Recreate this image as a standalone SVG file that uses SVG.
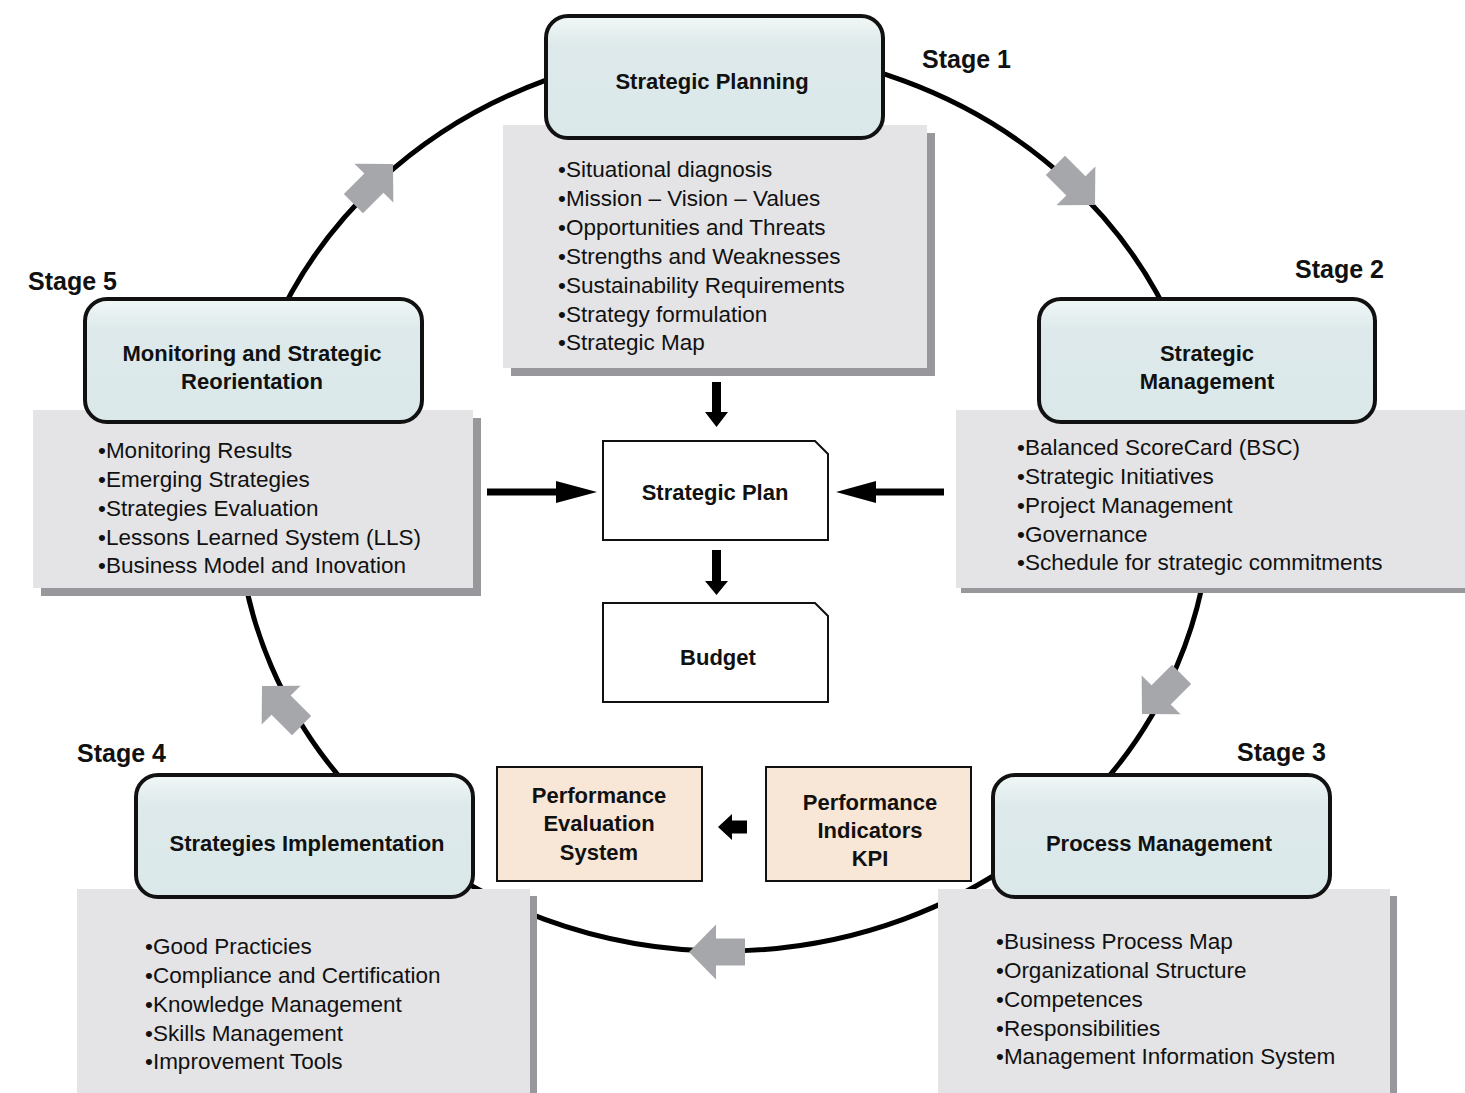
<svg xmlns="http://www.w3.org/2000/svg" width="1465" height="1093" viewBox="0 0 1465 1093">
<defs>
<linearGradient id="stg" x1="0" y1="0" x2="0" y2="1">
<stop offset="0" stop-color="#f1f7f7"/>
<stop offset="0.25" stop-color="#dde9ea"/>
<stop offset="1" stop-color="#dbe8e9"/>
</linearGradient>
</defs>
<style>
.stage{fill:url(#stg);stroke:#111;stroke-width:4}
.panel{fill:#e4e4e6}
.shadow{fill:#98989c}
.doc{fill:#fff;stroke:#111;stroke-width:2}
.perf{fill:#f8e6d7;stroke:#111;stroke-width:2}
.ga{fill:#a6a7ab}
.ba{fill:#000}
.t{font-family:"Liberation Sans",Arial,sans-serif;font-size:22px;font-weight:bold;fill:#111;text-anchor:middle}
.sl{font-family:"Liberation Sans",Arial,sans-serif;font-size:25px;font-weight:bold;fill:#111}
.li{font-family:"Liberation Sans",Arial,sans-serif;font-size:22.5px;fill:#111}
</style>
<g id="connectors">
<ellipse cx="724" cy="500" rx="487" ry="451" fill="none" stroke="#000" stroke-width="5"/>
</g>
<g id="panel1">
<rect class="shadow" x="511" y="133" width="424" height="243"/>
<rect class="panel" x="503" y="125" width="424" height="243"/>
<text class="li" x="558" y="177">•Situational diagnosis</text>
<text class="li" x="558" y="206">•Mission – Vision – Values</text>
<text class="li" x="558" y="235">•Opportunities and Threats</text>
<text class="li" x="558" y="264">•Strengths and Weaknesses</text>
<text class="li" x="558" y="293">•Sustainability Requirements</text>
<text class="li" x="558" y="322">•Strategy formulation</text>
<text class="li" x="558" y="350">•Strategic Map</text>
</g>
<g id="panel5">
<rect class="shadow" x="41" y="418" width="440" height="178"/>
<rect class="panel" x="33" y="410" width="440" height="178"/>
<text class="li" x="98" y="458">•Monitoring Results</text>
<text class="li" x="98" y="487">•Emerging Strategies</text>
<text class="li" x="98" y="516">•Strategies Evaluation</text>
<text class="li" x="98" y="545">•Lessons Learned System (LLS)</text>
<text class="li" x="98" y="573">•Business Model and Inovation</text>
</g>
<g id="panel2">
<rect class="shadow" x="961" y="415" width="504" height="178"/>
<rect class="panel" x="956" y="410" width="509" height="178"/>
<text class="li" x="1017" y="455">•Balanced ScoreCard (BSC)</text>
<text class="li" x="1017" y="484">•Strategic Initiatives</text>
<text class="li" x="1017" y="513">•Project Management</text>
<text class="li" x="1017" y="542">•Governance</text>
<text class="li" x="1017" y="570">•Schedule for strategic commitments</text>
</g>
<g id="panel4">
<rect class="shadow" x="84" y="896" width="453" height="197"/>
<rect class="panel" x="77" y="889" width="453" height="204"/>
<text class="li" x="145" y="954">•Good Practicies</text>
<text class="li" x="145" y="983">•Compliance and Certification</text>
<text class="li" x="145" y="1012">•Knowledge Management</text>
<text class="li" x="145" y="1041">•Skills Management</text>
<text class="li" x="145" y="1069">•Improvement Tools</text>
</g>
<g id="panel3">
<rect class="shadow" x="945" y="896" width="452" height="197"/>
<rect class="panel" x="938" y="889" width="452" height="204"/>
<text class="li" x="996" y="949">•Business Process Map</text>
<text class="li" x="996" y="978">•Organizational Structure</text>
<text class="li" x="996" y="1007">•Competences</text>
<text class="li" x="996" y="1036">•Responsibilities</text>
<text class="li" x="996" y="1064">•Management Information System</text>
</g>
<g id="stage1">
<rect class="stage" x="546" y="16" width="337" height="122" rx="22"/>
<text class="t" x="712" y="89">Strategic Planning</text>
<text class="sl" x="922" y="68">Stage 1</text>
</g>
<g id="stage2">
<rect class="stage" x="1039" y="299" width="336" height="123" rx="22"/>
<text class="t" x="1207" y="361">Strategic</text>
<text class="t" x="1207" y="389">Management</text>
<text class="sl" x="1295" y="278">Stage 2</text>
</g>
<g id="stage3">
<rect class="stage" x="993" y="775" width="337" height="122" rx="22"/>
<text class="t" x="1159" y="851">Process Management</text>
<text class="sl" x="1237" y="761">Stage 3</text>
</g>
<g id="stage4">
<rect class="stage" x="136" y="775" width="337" height="122" rx="22"/>
<text class="t" x="307" y="851">Strategies Implementation</text>
<text class="sl" x="77" y="762">Stage 4</text>
</g>
<g id="stage5">
<rect class="stage" x="85" y="299" width="337" height="123" rx="22"/>
<text class="t" x="252" y="361">Monitoring and Strategic</text>
<text class="t" x="252" y="389">Reorientation</text>
<text class="sl" x="28" y="290">Stage 5</text>
</g>
<g id="strategic-plan">
<path class="doc" d="M603,441 H815 L828,454 V540 H603 Z"/>
<text class="t" x="715" y="500">Strategic Plan</text>
</g>
<g id="budget">
<path class="doc" d="M603,603 H815 L828,616 V702 H603 Z"/>
<text class="t" x="718" y="665">Budget</text>
</g>
<g id="perf-eval">
<rect class="perf" x="497" y="767" width="205" height="114"/>
<text class="t" x="599" y="803">Performance</text>
<text class="t" x="599" y="831">Evaluation</text>
<text class="t" x="599" y="860">System</text>
</g>
<g id="perf-ind">
<rect class="perf" x="766" y="767" width="205" height="114"/>
<text class="t" x="870" y="810">Performance</text>
<text class="t" x="870" y="838">Indicators</text>
<text class="t" x="870" y="866">KPI</text>
</g>
<g id="arrows">
<polygon class="ga" transform="translate(1095,205) rotate(45)" points="0,0 -27,-27.5 -27,-13.5 -56,-13.5 -56,13.5 -27,13.5 -27,27.5"/>
<polygon class="ga" transform="translate(1142,714) rotate(135)" points="0,0 -27,-27.5 -27,-13.5 -56,-13.5 -56,13.5 -27,13.5 -27,27.5"/>
<polygon class="ga" transform="translate(689,952) rotate(180)" points="0,0 -27,-27.5 -27,-13.5 -56,-13.5 -56,13.5 -27,13.5 -27,27.5"/>
<polygon class="ga" transform="translate(262,686) rotate(-135)" points="0,0 -27,-27.5 -27,-13.5 -56,-13.5 -56,13.5 -27,13.5 -27,27.5"/>
<polygon class="ga" transform="translate(393,164) rotate(-45)" points="0,0 -27,-27.5 -27,-13.5 -56,-13.5 -56,13.5 -27,13.5 -27,27.5"/>
<polygon class="ba" points="712,382 721,382 721,412 728,412 716.5,427 705,412 712,412"/>
<polygon class="ba" points="712,550 721,550 721,581 728,581 716.5,595 705,581 712,581"/>
<polygon class="ba" points="487,488.5 556,488.5 556,481 597,492 556,503 556,495.5 487,495.5"/>
<polygon class="ba" points="944,488.5 876,488.5 876,481 836,492 876,503 876,495.5 944,495.5"/>
<polygon class="ba" points="718,827 732,814 732,820.5 747,820.5 747,833.5 732,833.5 732,840"/>
</g>
</svg>
